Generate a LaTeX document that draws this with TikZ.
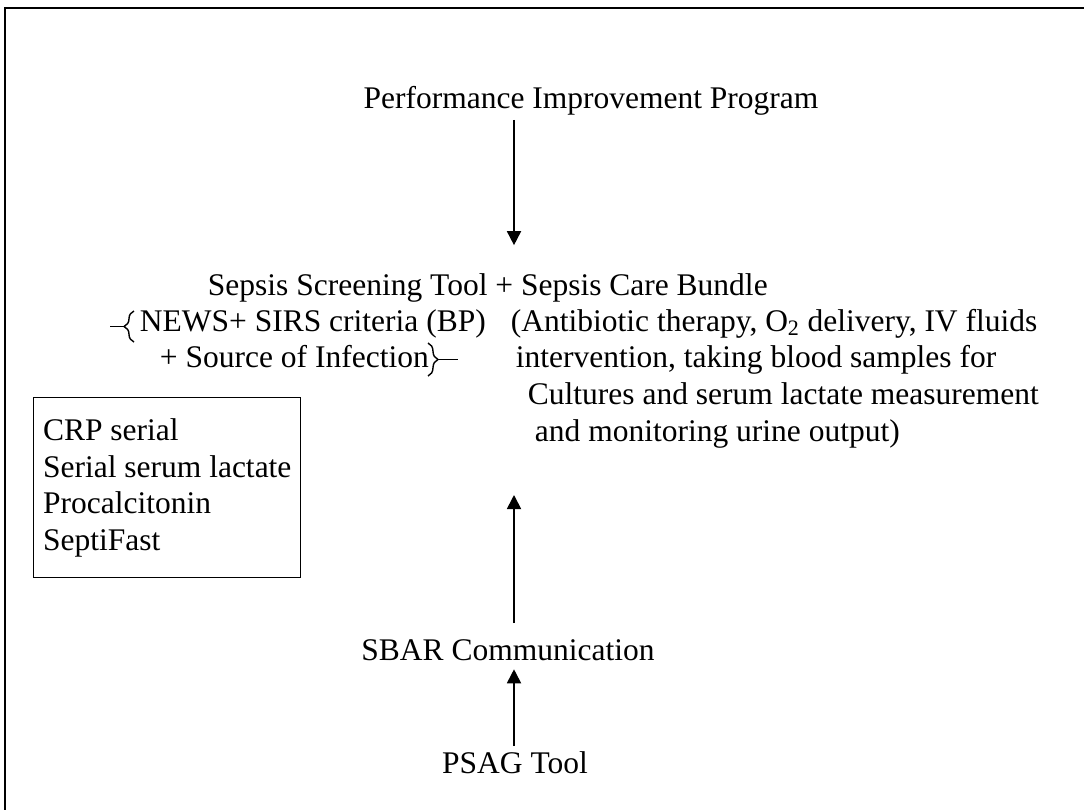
\documentclass[tikz,border=0pt]{standalone}
\usepackage{fontspec}
\setmainfont{Liberation Serif}
\usetikzlibrary{arrows.meta,decorations.pathreplacing}
\tikzset{>/.tip={Triangle[width=10pt,length=10pt]}}

\begin{document}
\begin{tikzpicture}[x=0.025cm,y=-0.025cm,
  every node/.style={font=\fontsize{22.4}{26}\selectfont},
  line/.style={anchor=base west},
  flow/.style={->,line width=1.2pt},
  brc/.style={decorate,decoration={brace,amplitude=0.25cm},line width=1pt}]
\useasboundingbox (0,0) rectangle (1084,809);
\clip (0,0) rectangle (1084,809);
\draw[line width=1.2pt] (5,830) -- (5,8) -- (1100,8);
\coordinate (spine) at (514,0);

\node (perf)   [anchor=base] at (591,108) {Performance Improvement Program};
\node (bundle) [line] at (203,295) {Sepsis Screening Tool + Sepsis Care Bundle};
\node (news)   [line] at (135,331) {NEWS+ SIRS criteria (BP)};
\node (source) [line] at (155,367) {+ Source of Infection};
\node (treat1) [line] at (506,331) {(Antibiotic therapy, O\textsubscript{2} delivery, IV fluids};
\node (treat2) [line] at (511,367) {intervention, taking blood samples for};
\node (treat3) [line] at (523,404) {Cultures and serum lactate measurement};
\node (treat4) [line] at (530,441) {and monitoring urine output)};
\node (tests)  [draw,line width=1pt,anchor=north west,align=left,
                minimum width=6.675cm,minimum height=4.5cm] at (33,397)
  {CRP serial\\Serial serum lactate\\Procalcitonin\\SeptiFast};
\node (sbar)   [anchor=base] at (508,660) {SBAR Communication};
\node (psag)   [anchor=base] at (515,773) {PSAG Tool};
\coordinate (bundlebottom) at (514,495);

% braces
\draw[brc] (134,342) -- (134,311);
\draw[line width=1pt] (125,326.5) -- (110,326.5);
\draw[brc] (428,343) -- (428,376);
\draw[line width=1pt] (437,359.5) -- (458,359.5);

\draw[flow,shorten >=0.575cm] (perf.south -| spine) -- (bundle.north -| spine);
\draw[flow,shorten <=0.275cm] (sbar.north -| spine) -- (bundlebottom);
\draw[flow,shorten >=0.1cm] (psag.north -| spine) -- (sbar.south -| spine);
\end{tikzpicture}
\end{document}
